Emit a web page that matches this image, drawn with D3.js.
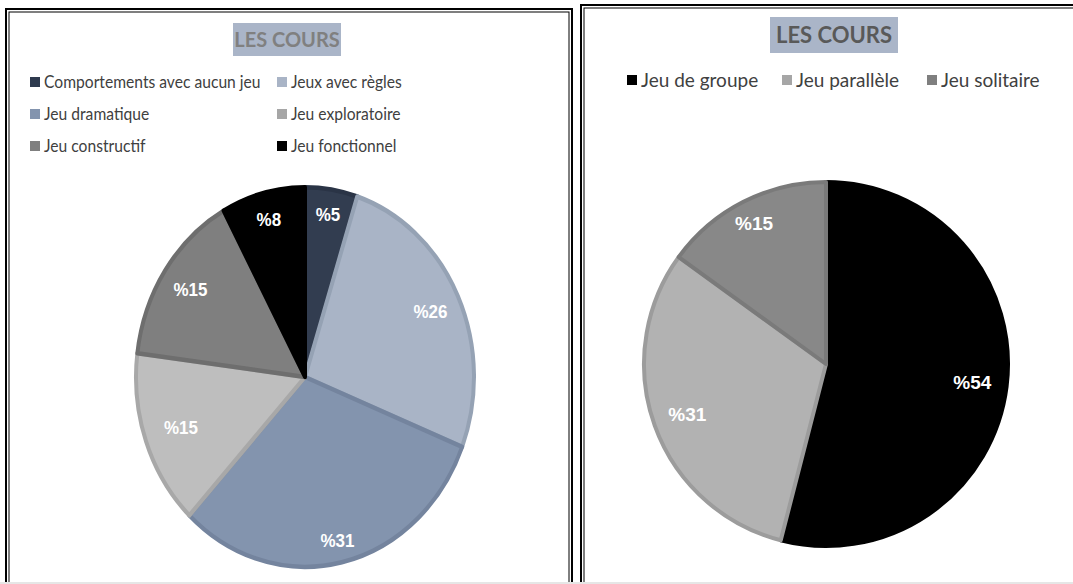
<!DOCTYPE html>
<html>
<head>
<meta charset="utf-8">
<script src="https://cdn.jsdelivr.net/npm/d3@7"></script>
<style>
  body { margin: 0; background: #fff; overflow: hidden; }
  svg { display: block; }
</style>
</head>
<body>
<svg id="chart" width="1073" height="584"></svg>
<script>
// left chart data
var leftLabels = ["Comportements avec aucun jeu", "Jeux avec règles", "Jeu dramatique",
                  "Jeu exploratoire", "Jeu constructif", "Jeu fonctionnel"];
var leftValues = [5, 26, 31, 15, 15, 8];
var leftFill = ["#323d50", "#a9b4c6", "#8394ae", "#bebebe", "#7f7f7f", "#000000"];
var leftStroke = ["#2a3446", "#95a2b4", "#74849e", "#a8a8a8", "#6e6e6e", "#000000"];
var leftLegendColor = ["#2e3a4e", "#a9b4c6", "#8394ae", "#a6a6a6", "#7f7f7f", "#000000"];

// right chart data
var rightLabels = ["Jeu de groupe", "Jeu parallèle", "Jeu solitaire"];
var rightValues = [54, 31, 15];
var rightFill = ["#000000", "#b2b2b2", "#888888"];
var rightStroke = ["#000000", "#9c9c9c", "#7a7a7a"];
var rightLegendColor = ["#000000", "#a6a6a6", "#7f7f7f"];

var svg = d3.select("#chart");

// frames (double border)
function frame(x, y, w, h) {
    svg.append("rect").attr("x", x).attr("y", y).attr("width", w).attr("height", h)
        .attr("fill", "none").attr("stroke", "#000").attr("stroke-width", 2);
    svg.append("rect").attr("x", x + 3).attr("y", y + 3).attr("width", w - 6).attr("height", h)
        .attr("fill", "none").attr("stroke", "#000").attr("stroke-width", 1);
}
frame(6, 9, 566, 600);
frame(581, 5, 520, 600);

// light line at the bottom
svg.append("rect").attr("x", 0).attr("y", 582).attr("width", 1073).attr("height", 2).attr("fill", "#e6e6e6");

function title(cx, y, w, h, color, size) {
    svg.append("rect").attr("x", cx - w / 2).attr("y", y).attr("width", w).attr("height", h)
        .attr("fill", "#aab5c8");
    svg.append("text").attr("x", cx).attr("y", y + h / 2).attr("dy", "0.36em")
        .attr("text-anchor", "middle")
        .style("font-family", "Lato").style("font-weight", "bold")
        .style("font-size", size + "px").style("fill", color)
        .text("LES COURS");
}
title(287, 23, 108, 33, "#808080", 20);
title(834, 17, 128, 36, "#595959", 22);

// legends (text squeezed a little to get the narrow look of the original font)
function legend(items, colors, positions, size, color, sx) {
    items.forEach(function (name, i) {
        var p = positions[i];
        svg.append("rect").attr("x", p[0]).attr("y", p[1] - 5).attr("width", 10).attr("height", 10)
            .attr("fill", colors[i]);
        svg.append("text")
            .attr("transform", "translate(" + (p[0] + 14) + "," + p[1] + ") scale(" + sx + ",1)")
            .attr("dy", "0.35em")
            .style("font-family", "Lato").style("font-size", size + "px").style("fill", color)
            .text(name);
    });
}
legend(leftLabels, leftLegendColor,
    [[30, 82], [277, 82], [30, 114], [277, 114], [30, 146], [277, 146]], 17, "#404040", 0.92);
legend(rightLabels, rightLegendColor,
    [[627, 80], [782, 80], [927, 80]], 19, "#404040", 1.0);

// pies
var pie = d3.pie().sort(null).value(function (d) { return d; });

function drawPie(values, fills, strokes, cx, cy, r, sy, fontSize, labelFrac) {
    var g = svg.append("g").attr("transform", "translate(" + cx + "," + cy + ") scale(1," + sy + ")");
    var arc = d3.arc().innerRadius(0).outerRadius(r);
    var arcs = pie(values);
    g.selectAll("path").data(arcs).enter().append("path")
        .attr("d", arc)
        .attr("fill", function (d, i) { return fills[i]; })
        .attr("stroke", function (d, i) { return strokes[i]; })
        .attr("stroke-width", 4)
        .attr("stroke-linejoin", "round");
    g.selectAll("text").data(arcs).enter().append("text")
        .attr("transform", function (d, i) {
            var k = r * labelFrac[i];
            return "translate(" + d3.arc().innerRadius(k).outerRadius(k).centroid(d) + ")";
        })
        .attr("text-anchor", "middle").attr("dy", "0.36em")
        .style("font-family", "Liberation Sans").style("font-weight", "bold")
        .style("font-size", fontSize + "px").style("fill", "#fff")
        .text(function (d) { return "%" + d.data; });
}
drawPie(leftValues, leftFill, leftStroke, 305, 377, 169, 1.123, 17, [0.87, 0.82, 0.88, 0.78, 0.82, 0.86]);
drawPie(rightValues, rightFill, rightStroke, 826, 364, 182, 1.0, 19, [0.81, 0.81, 0.87]);
</script>
</body>
</html>
